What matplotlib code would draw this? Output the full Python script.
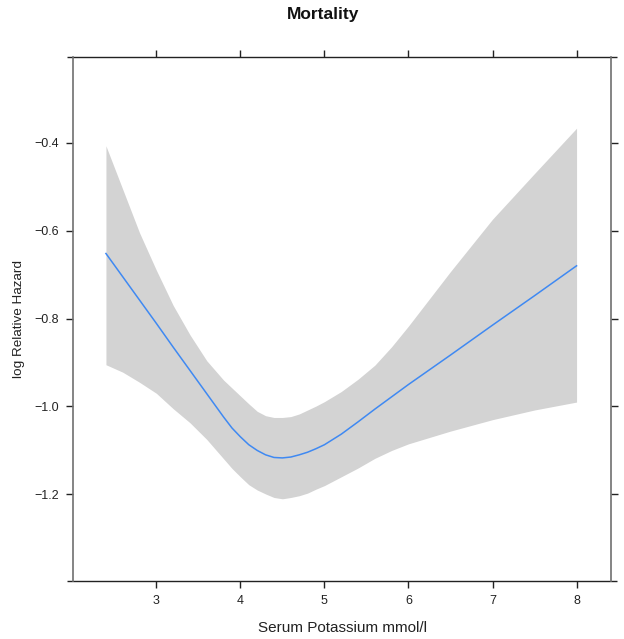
import matplotlib
matplotlib.use("Agg")
import matplotlib.pyplot as plt

# Serum potassium (mmol/l) grid and the fitted log relative hazard with its band
potassium = [2.4, 2.6, 2.8, 3.0, 3.2, 3.4, 3.6, 3.8, 3.9, 4.0, 4.1, 4.2, 4.3, 4.4,
             4.5, 4.6, 4.7, 4.8, 4.9, 5.0, 5.2, 5.4, 5.6, 5.8, 6.0, 6.5, 7.0, 7.5, 8.0]
log_hr = [-0.652, -0.705, -0.758, -0.811, -0.865, -0.918, -0.971, -1.024, -1.049,
          -1.069, -1.087, -1.100, -1.110, -1.116, -1.117, -1.115, -1.110, -1.104,
          -1.096, -1.087, -1.063, -1.035, -1.006, -0.978, -0.950, -0.883, -0.815,
          -0.748, -0.680]
upper = [-0.407, -0.506, -0.605, -0.690, -0.770, -0.837, -0.896, -0.940, -0.958,
         -0.976, -0.994, -1.011, -1.021, -1.025, -1.025, -1.023, -1.017, -1.008,
         -0.999, -0.989, -0.966, -0.938, -0.906, -0.864, -0.817, -0.693, -0.574,
         -0.470, -0.367]
lower = [-0.905, -0.922, -0.945, -0.970, -1.005, -1.037, -1.075, -1.119, -1.141,
         -1.160, -1.178, -1.190, -1.199, -1.207, -1.210, -1.207, -1.203, -1.197,
         -1.188, -1.180, -1.160, -1.140, -1.118, -1.100, -1.085, -1.056, -1.030,
         -1.008, -0.990]

x_ticks = [3, 4, 5, 6, 7, 8]
y_ticks = [-1.2, -1.0, -0.8, -0.6, -0.4]

plt.rcParams["font.family"] = ["Liberation Sans", "DejaVu Sans"]

fig = plt.figure(figsize=(6.24, 6.39), dpi=100)
ax = fig.add_axes([73 / 624, 1 - 581 / 639, 538 / 624, 524 / 639])

ax.fill_between(potassium, lower, upper, color="#d3d3d3", linewidth=0)
ax.plot(potassium, log_hr, color="#3f89f2", linewidth=1.1)

ax.set_xlim(2.008, 8.41)
ax.set_ylim(-1.397, -0.205)
ax.set_xticks(x_ticks)
ax.set_xticklabels([str(t) for t in x_ticks])
ax.set_yticks(y_ticks)
ax.set_yticklabels([f"{t:.1f}".replace("-", "\u2212") for t in y_ticks])

ax.tick_params(axis="both", which="major", direction="out", length=5, width=1,
               color="#222222", labelsize=9, labelcolor="#222222", pad=5,
               top=True, right=True, labeltop=False, labelright=False)

# lattice-style box: grey sides, dark top/bottom rules running past the corners
for side in ("left", "right"):
    ax.spines[side].set_color("#707070")
    ax.spines[side].set_linewidth(1.2)
for side in ("top", "bottom"):
    ax.spines[side].set_visible(False)
    ax.plot([-0.011, 1.011], [1 if side == "top" else 0] * 2, color="#222222",
            linewidth=1, transform=ax.transAxes, clip_on=False, solid_capstyle="butt")

ax.set_xlabel("Serum Potassium mmol/l", fontsize=11, color="#222222", labelpad=10)
ax.set_ylabel("log Relative Hazard", fontsize=9.7, color="#222222", labelpad=7)
fig.text(0.518, 1 - 15 / 639, "Mortality", ha="center", va="center",
         fontsize=12.5, fontweight="bold", color="#111111")

fig.savefig("out.png", dpi=100)
